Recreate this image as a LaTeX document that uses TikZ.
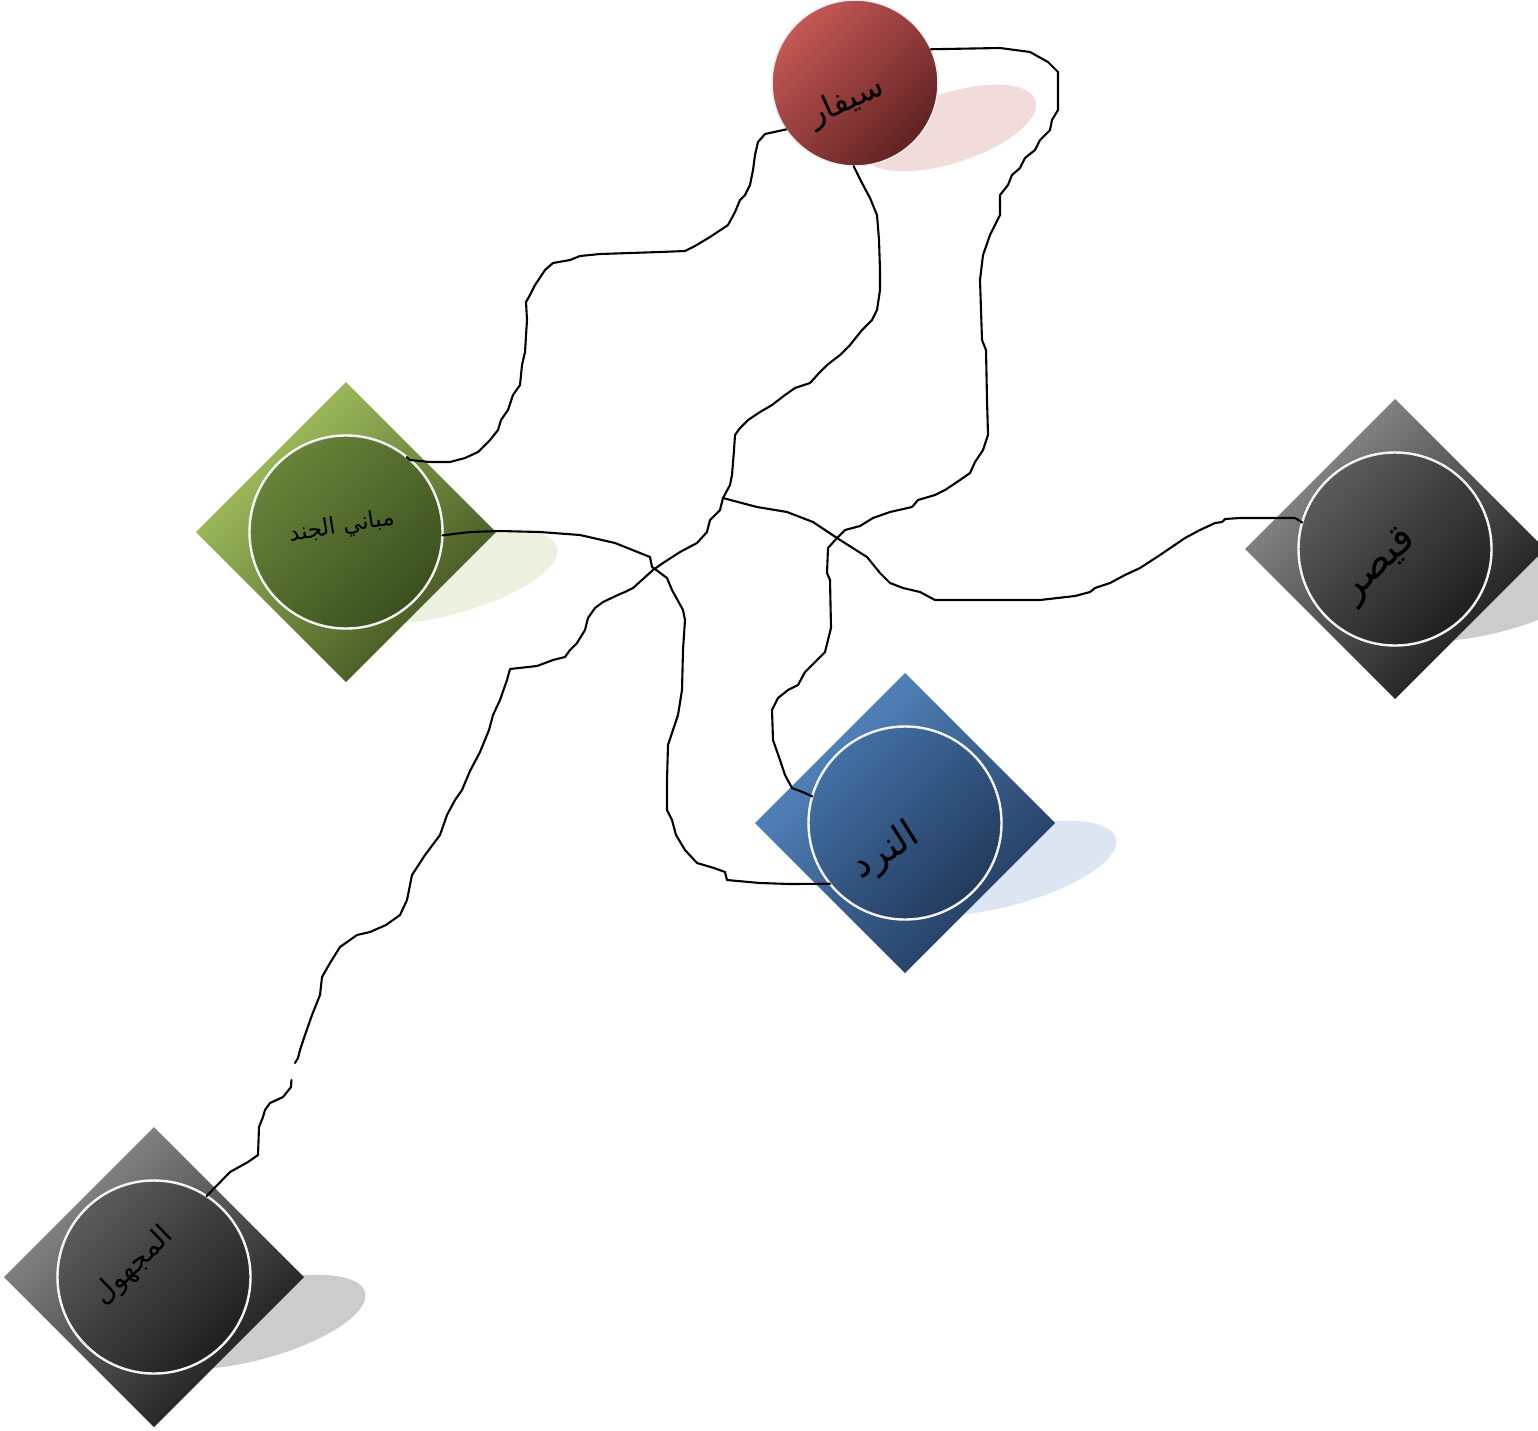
\documentclass[tikz,border=0pt]{standalone}
\usepackage{fontspec}
\usetikzlibrary{shapes.geometric,patterns}
\TeXXeTstate=1
\newfontfamily\arabicfont[Script=Arabic]{DejaVu Sans}

% palette
\definecolor{redL}{RGB}{196,88,85}
\definecolor{redD}{RGB}{96,34,34}
\definecolor{redSh}{RGB}{242,220,219}
\definecolor{grnL}{RGB}{168,200,98}
\definecolor{grnD}{RGB}{62,80,30}
\definecolor{grnCL}{RGB}{110,142,62}
\definecolor{grnCD}{RGB}{64,86,34}
\definecolor{grnSh}{RGB}{235,241,222}
\definecolor{bluL}{RGB}{88,140,200}
\definecolor{bluD}{RGB}{32,56,90}
\definecolor{bluCL}{RGB}{72,120,178}
\definecolor{bluCD}{RGB}{38,64,100}
\definecolor{bluSh}{RGB}{220,230,242}
\definecolor{gryL}{RGB}{145,145,145}
\definecolor{gryD}{RGB}{22,22,22}
\definecolor{gryCL}{RGB}{98,98,98}
\definecolor{gryCD}{RGB}{34,34,34}
\definecolor{grySh}{RGB}{204,204,204}

\tikzset{
  tile/.style 2 args={diamond, aspect=1, minimum width=300pt, minimum height=300pt,
    inner sep=0pt, outer sep=0pt, top color=#1, bottom color=#2, shading angle=45},
  disc/.style 2 args={circle, minimum size=193pt, inner sep=0pt, outer sep=0pt,
    top color=#1, bottom color=#2, shading angle=45, draw=white, line width=2.4pt,
    postaction={pattern=north west lines, pattern color=black, opacity=0.2}},
  ball/.style={circle, minimum size=166pt, inner sep=0pt, outer sep=0pt,
    top color=redL, bottom color=redD, shading angle=45, draw=black!7, line width=1.5pt},
  tag/.style={text=black, inner sep=0pt},
  conn/.style={draw=black, line width=2.1pt, line join=round, line cap=round},
}

\begin{document}
\begin{tikzpicture}[x=1pt, y=1pt]
\useasboundingbox (0,0) rectangle (1538,-1430);
\clip (0,0) rectangle (1538,-1430);

% soft shadows
\fill[redSh, shift={(950,-128)}, rotate=18] (0,0) ellipse [x radius=90, y radius=35];
\fill[grnSh, shift={(446,-577)}, rotate=15] (0,0) ellipse [x radius=115, y radius=38];
\fill[bluSh, shift={(1005,-868)}, rotate=15] (0,0) ellipse [x radius=115, y radius=38];
\fill[grySh, shift={(1495,-594)}, rotate=15] (0,0) ellipse [x radius=115, y radius=38];
\fill[grySh, shift={(254,-1322)}, rotate=15] (0,0) ellipse [x radius=115, y radius=38];

% tiles
\node[tile={grnL}{grnD}] (gjT) at (346,-532) {};
\node[tile={bluL}{bluD}] (ndT) at (905,-823) {};
\node[tile={gryL}{gryD}] (qsT) at (1395,-549) {};
\node[tile={gryL}{gryD}] (mjT) at (154,-1277) {};

% discs
\node[ball] (sf) at (855,-83) {};
\node[disc={grnCL}{grnCD}] (gj) at (346,-532) {};
\node[disc={bluCL}{bluCD}] (nd) at (905,-823) {};
\node[disc={gryCL}{gryCD}] (qs) at (1395,-549) {};
\node[disc={gryCL}{gryCD}] (mj) at (154,-1277) {};

% junction where the branch towards the right leaves
\coordinate (J) at (723,-498);

% connectors
\draw[conn] (sf.214) -- (765,-134) -- (758,-142) -- (755,-155) -- (753,-170) -- (750,-185)
  -- (745,-195) -- (740,-200) -- (735,-212) -- (728,-225) -- (710,-237) -- (695,-246)
  -- (685,-251) -- (660,-252) -- (600,-254) -- (580,-256) -- (570,-260) -- (553,-263)
  -- (545,-270) -- (535,-285) -- (530,-295) -- (526,-302) -- (527,-320) -- (525,-352)
  -- (522,-365) -- (520,-385) -- (513,-395) -- (508,-410) -- (501,-420) -- (498,-430)
  -- (490,-440) -- (478,-452) -- (465,-458) -- (450,-462) -- (430,-462) -- (410,-460)
  -- (gj.51);

\draw[conn] (sf.24) -- (1000,-48) -- (1030,-52) -- (1048,-62) -- (1058,-72) -- (1058,-110)
  -- (1052,-120) -- (1050,-130) -- (1040,-140) -- (1035,-150) -- (1025,-158)
  -- (1020,-168) -- (1012,-175) -- (1008,-185) -- (1000,-195) -- (1000,-215)
  -- (990,-235) -- (983,-255) -- (980,-280) -- (981,-310) -- (982,-340) -- (986,-350)
  -- (987,-400) -- (988,-435) -- (983,-450) -- (975,-462) -- (970,-473) -- (960,-480)
  -- (945,-490) -- (935,-495) -- (918,-500) -- (912,-507) -- (890,-512) -- (873,-518)
  -- (860,-526) -- (845,-530) -- (837,-538) -- (828,-548) -- (827,-573) -- (830,-580)
  -- (831,-628) -- (825,-652) -- (812,-665) -- (805,-672) -- (798,-685) -- (788,-690)
  -- (778,-698) -- (772,-710) -- (773,-740) -- (780,-760) -- (785,-775) -- (792,-788)
  -- (805,-793) -- (nd.164);

\draw[conn, shorten <=10pt] (sf.-91) -- (862,-183) -- (870,-198) -- (877,-215) -- (879,-240)
  -- (880,-270) -- (880,-290) -- (877,-310) -- (872,-320) -- (862,-330) -- (850,-345)
  -- (840,-355) -- (827,-365) -- (820,-372) -- (810,-383) -- (795,-388) -- (785,-395)
  -- (772,-405) -- (760,-412) -- (748,-420) -- (740,-428) -- (735,-435) -- (734,-450)
  -- (732,-475) -- (730,-485) -- (J) -- (720,-510) -- (710,-520) -- (707,-532)
  -- (697,-543) -- (680,-552) -- (663,-563) -- (653,-570) -- (633,-588) -- (625,-592)
  -- (620,-594) -- (603,-602) -- (595,-608) -- (588,-618) -- (585,-630) -- (577,-643)
  -- (570,-650) -- (565,-657) -- (553,-660) -- (537,-666) -- (510,-669) -- (507,-680)
  -- (500,-700) -- (493,-715) -- (489,-730) -- (480,-752) -- (470,-771) -- (462,-790)
  -- (455,-800) -- (447,-815) -- (440,-835) -- (425,-855) -- (412,-875) -- (407,-900)
  -- (400,-915) -- (386,-925) -- (370,-932) -- (357,-935) -- (340,-947) -- (330,-963)
  -- (322,-977) -- (320,-995) -- (312,-1015) -- (305,-1035) -- (300,-1050) -- (298,-1058)
  -- (295,-1063)
  (292,-1070) -- (291,-1087) -- (283,-1097) -- (270,-1103) -- (265,-1110) -- (263,-1117)
  -- (259,-1127) -- (258,-1155) -- (248,-1162) -- (230,-1172) -- (mj.57);

\draw[conn] (gj.-2) -- (470,-532) -- (500,-531) -- (540,-532) -- (580,-535) -- (615,-543)
  -- (650,-557) -- (652,-567) -- (655,-569) -- (667,-578) -- (672,-590) -- (683,-610)
  -- (685,-620) -- (683,-650) -- (682,-690) -- (678,-715) -- (673,-730) -- (668,-745)
  -- (667,-780) -- (667,-810) -- (672,-820) -- (676,-835) -- (685,-850) -- (697,-863)
  -- (714,-868) -- (725,-872) -- (727,-880) -- (760,-883) -- (790,-884) -- (nd.219);

\draw[conn] (J) -- (757,-507) -- (787,-512) -- (813,-522) -- (837,-538) -- (867,-557)
  -- (880,-573) -- (890,-583) -- (903,-588) -- (920,-592) -- (935,-600) -- (980,-600)
  -- (1040,-600) -- (1075,-596) -- (1090,-592) -- (1095,-588) -- (1110,-583)
  -- (1125,-575) -- (1140,-568) -- (1160,-555) -- (1185,-538) -- (1200,-530)
  -- (1215,-523) -- (1222,-522) -- (1225,-519) -- (1240,-518) -- (1295,-518) -- (qs.164);

% labels
\node[tag, font=\arabicfont\fontsize{32}{36}\selectfont, rotate=24] (sfL) at (847,-102) {\beginR سيفار\endR};
\node[tag, font=\arabicfont\fontsize{23}{27}\selectfont, rotate=9] (gjL) at (342,-527) {\beginR مباني الجند\endR};
\node[tag, font=\arabicfont\fontsize{38}{42}\selectfont, rotate=32] (ndL) at (886,-852) {\beginR النرد\endR};
\node[tag, font=\arabicfont\fontsize{40}{44}\selectfont, rotate=44] (qsL) at (1380,-566) {\beginR قيصر\endR};
\node[tag, font=\arabicfont\fontsize{28}{32}\selectfont, rotate=44] (mjL) at (134,-1266) {\beginR المجهول\endR};
\end{tikzpicture}
\end{document}
